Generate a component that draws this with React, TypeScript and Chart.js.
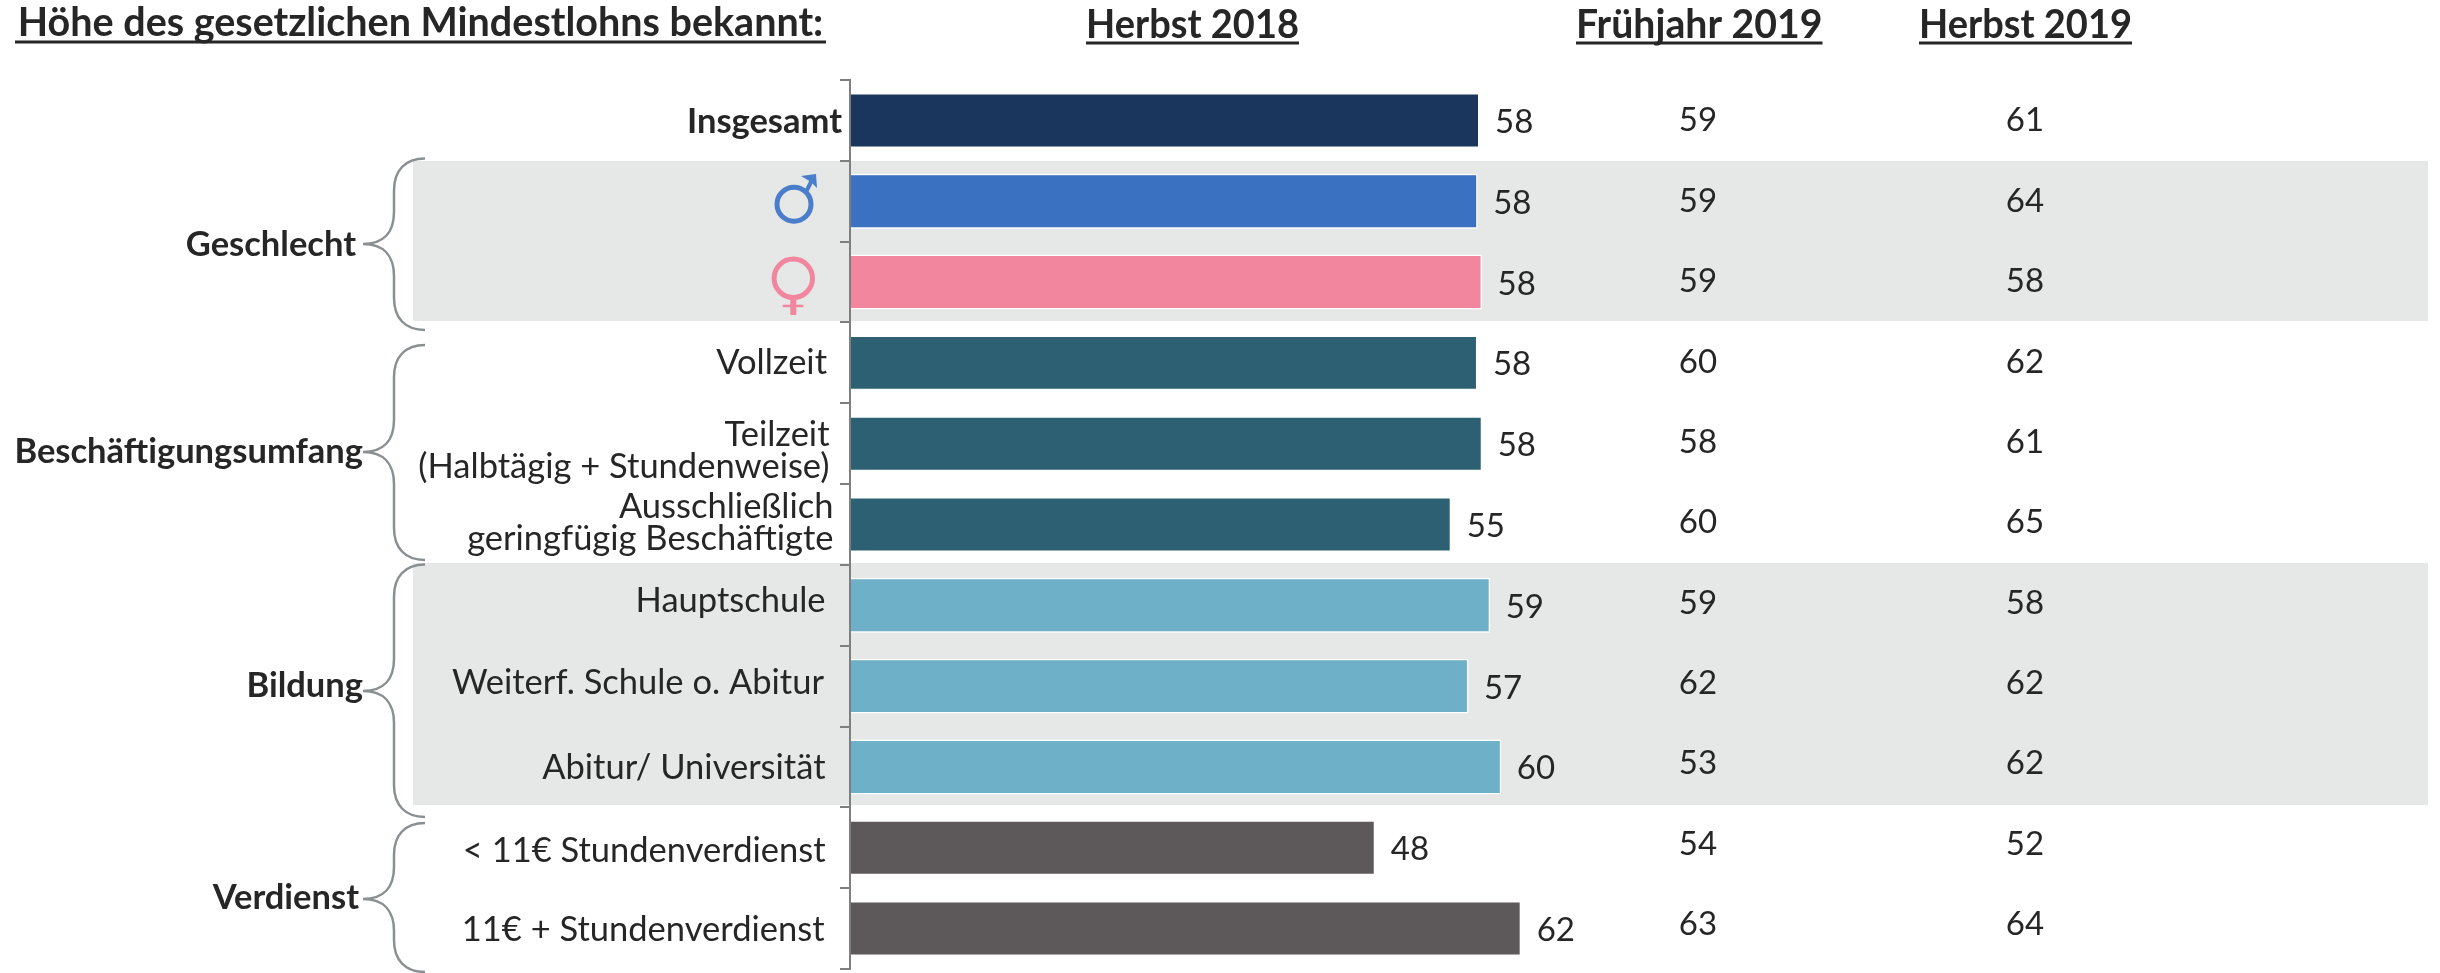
import React, { useEffect, useRef } from "react";
import { Chart, registerables } from "chart.js";

Chart.register(...registerables);

const categories = [
  "Insgesamt", "♂", "♀", "Vollzeit", "Teilzeit (Halbtägig + Stundenweise)",
  "Ausschließlich geringfügig Beschäftigte", "Hauptschule", "Weiterf. Schule o. Abitur",
  "Abitur/ Universität", "< 11€ Stundenverdienst", "11€ + Stundenverdienst",
];
const herbst2018 = [58.02, 57.85, 58.25, 57.83, 58.27, 55.41, 59.0, 57.0, 60.03, 48.41, 61.86];
const herbst2018Labels = [58, 58, 58, 58, 58, 55, 59, 57, 60, 48, 62];
const fruehjahr2019 = [59, 59, 59, 60, 58, 60, 59, 62, 53, 54, 63];
const herbst2019 = [61, 64, 58, 62, 61, 65, 58, 62, 62, 52, 64];
const barColors = [
  "#1B365D", "#3A71C1", "#F2869F", "#2D6072", "#2D6072", "#2D6072",
  "#6FB0C9", "#6FB0C9", "#6FB0C9", "#5D595A", "#5D595A",
];

const TEXT = "#262626";
const FAMILY = "Lato, 'Open Sans', sans-serif";
const REG = `34.5px ${FAMILY}`;
const BOLD = `bold 34.5px ${FAMILY}`;
const NUM = `33px ${FAMILY}`;

// [text lines, right edge, first baseline, bold]
const rowLabels: [string[], number, number, boolean][] = [
  [["Insgesamt"], 842, 133, true],
  [[], 0, 0, false],
  [[], 0, 0, false],
  [["Vollzeit"], 827, 373.5, false],
  [["Teilzeit", "(Halbtägig + Stundenweise)"], 829.5, 445.5, false],
  [["Ausschließlich", "geringfügig Beschäftigte"], 833.5, 517.5, false],
  [["Hauptschule"], 825.5, 612, false],
  [["Weiterf. Schule o. Abitur"], 824, 694, false],
  [["Abitur/ Universität"], 825.5, 779, false],
  [["< 11€ Stundenverdienst"], 825.5, 862, false],
  [["11€ + Stundenverdienst"], 824.5, 940.5, false],
];
// [text, right edge, baseline]
const groupLabels: [string, number, number][] = [
  ["Geschlecht", 356, 256],
  ["Beschäftigungsumfang", 363, 463],
  ["Bildung", 363, 696.5],
  ["Verdienst", 359, 908.5],
];
// [top, middle, bottom]
const braces: [number, number, number][] = [
  [158.5, 244, 330],
  [345, 452, 560],
  [564.5, 691, 817],
  [823, 899, 972],
];
// [text, left, right, baseline, underline y]
const headers: [string, number, number, number, number][] = [
  ["Höhe des gesetzlichen Mindestlohns bekannt:", 15, 826, 36, 42],
  ["Herbst 2018", 1086, 1299, 37.5, 43],
  ["Frühjahr 2019", 1576, 1822.5, 37.5, 43],
  ["Herbst 2019", 1919, 2132, 37.5, 43],
];

const decorPlugin = {
  id: "decor",
  beforeDraw(chart: any) {
    const c = chart.ctx;
    c.save();
    c.fillStyle = "#E6E8E7";
    c.fillRect(413, 161, 2428 - 413, 160);
    c.fillRect(413, 563, 2428 - 413, 242);
    c.restore();
  },
  afterDatasetsDraw(chart: any) {
    const c = chart.ctx;
    const yS = chart.scales.y;
    const xS = chart.scales.x;
    c.save();
    c.fillStyle = TEXT;
    c.textBaseline = "alphabetic";

    // header row
    c.font = `bold 39.5px ${FAMILY}`;
    c.strokeStyle = TEXT;
    headers.forEach(([t, l, r, b, u]) => {
      c.textAlign = "center";
      c.fillText(t, (l + r) / 2, b, r - l);
      c.lineWidth = 3;
      c.beginPath();
      c.moveTo(l, u);
      c.lineTo(r, u);
      c.stroke();
    });

    // row labels
    rowLabels.forEach(([lines, right, base, bold]) => {
      c.font = bold ? BOLD : REG;
      c.textAlign = "right";
      lines.forEach((ln, i) => c.fillText(ln, right, base + i * 32));
    });

    // group labels
    c.font = BOLD;
    groupLabels.forEach(([t, r, b]) => {
      c.textAlign = "right";
      c.fillText(t, r, b);
    });

    // values
    c.font = NUM;
    categories.forEach((_, i) => {
      const yc = yS.getPixelForValue(i);
      c.textAlign = "left";
      c.fillText(String(herbst2018Labels[i]), xS.getPixelForValue(herbst2018[i]) + 15.5, yc + 12.5);
      c.textAlign = "center";
      const colY = yc + 11 - i * 0.45;
      c.fillText(String(fruehjahr2019[i]), 1698, colY);
      c.fillText(String(herbst2019[i]), 2025, colY);
    });

    // braces
    c.strokeStyle = "#8A8F92";
    c.lineWidth = 2.5;
    braces.forEach(([t, m, b]) => {
      c.beginPath();
      c.moveTo(425, t);
      c.bezierCurveTo(405, t, 394, t + 12, 394, t + 32);
      c.lineTo(394, m - 32);
      c.bezierCurveTo(394, m - 12, 384, m, 363, m);
      c.bezierCurveTo(384, m, 394, m + 12, 394, m + 32);
      c.lineTo(394, b - 32);
      c.bezierCurveTo(394, b - 12, 405, b, 425, b);
      c.stroke();
    });

    // male symbol
    c.strokeStyle = "#4A7ECB";
    c.fillStyle = "#4A7ECB";
    c.lineWidth = 5;
    c.beginPath();
    c.arc(794, 204.3, 17, 0, Math.PI * 2);
    c.stroke();
    c.lineWidth = 4;
    c.beginPath();
    c.moveTo(806, 192);
    c.lineTo(813, 178);
    c.stroke();
    c.beginPath();
    c.moveTo(801, 176);
    c.lineTo(816, 174);
    c.lineTo(817, 188);
    c.lineTo(811, 182);
    c.closePath();
    c.fill();

    // female symbol
    c.lineWidth = 5;
    c.strokeStyle = "#F2869F";
    c.fillStyle = "#F2869F";
    c.beginPath();
    c.arc(793.3, 278.3, 19.2, 0, Math.PI * 2);
    c.stroke();
    c.fillRect(790.3, 299, 6, 16);
    c.fillRect(782.7, 304.7, 20.6, 2.5);
    c.restore();
  },
};

export default function App() {
  const ref = useRef<HTMLCanvasElement>(null);
  useEffect(() => {
    const chart = new Chart(ref.current!, {
      type: "bar",
      data: {
        labels: categories,
        datasets: [
          {
            label: "Herbst 2018",
            data: herbst2018,
            backgroundColor: barColors,
            borderColor: "#FFFFFF",
            borderWidth: 1.5,
            borderSkipped: "left",
            barPercentage: 0.68,
            categoryPercentage: 1,
          },
        ],
      },
      options: {
        indexAxis: "y",
        responsive: false,
        animation: false,
        layout: { padding: { left: 840, right: 505, top: 80, bottom: 4 } },
        plugins: { legend: { display: false }, tooltip: { enabled: false }, title: { display: false } },
        scales: {
          x: { display: false, min: 0, max: 100 },
          y: {
            offset: true,
            ticks: { display: false },
            grid: { drawOnChartArea: false, drawTicks: true, tickLength: 10, color: "#7F7F7F", lineWidth: 2, offset: true },
            border: { color: "#7F7F7F", width: 2, z: 1 },
          },
        },
      },
      plugins: [decorPlugin],
    } as any);
    return () => chart.destroy();
  }, []);
  return (
    <div style={{ position: "absolute", left: 0, top: 0, width: 2440, height: 973 }}>
      <canvas ref={ref} width={2440} height={973} style={{ display: "block" }} />
    </div>
  );
}
